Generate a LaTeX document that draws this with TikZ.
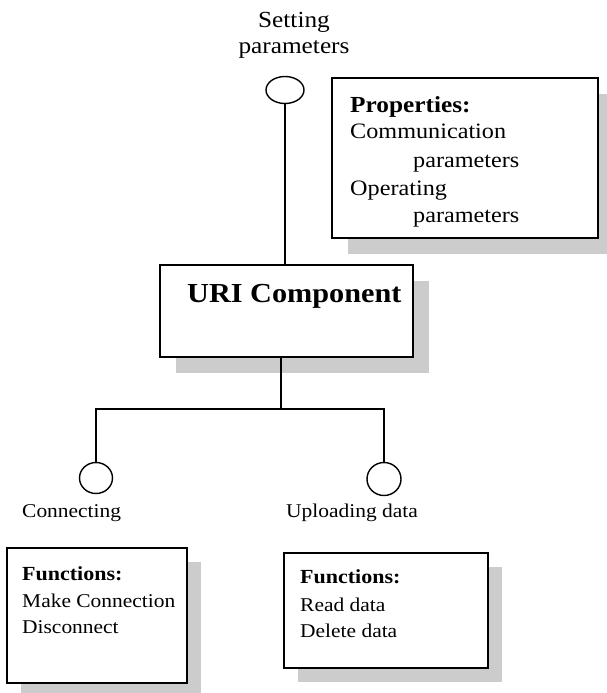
\documentclass[tikz,border=0pt]{standalone}
\usepackage{fontspec}
\setmainfont{Liberation Serif}[FakeStretch=1.1]
\usetikzlibrary{shapes.geometric,shadows}
\tikzset{
  lbl/.style={inner sep=0pt, anchor=base west},
  ftop/.style={font=\fontsize{23}{27}\selectfont},
  fprop/.style={font=\fontsize{22}{27}\selectfont},
  fpropb/.style={font=\bfseries\fontsize{23}{27}\selectfont},
  fbot/.style={font=\fontsize{19.5}{24}\selectfont},
  fbotb/.style={font=\bfseries\fontsize{20}{24}\selectfont},
  furi/.style={font=\bfseries\fontsize{27.5}{32}\selectfont},
  boxsh/.style={draw, line width=1.5pt, fill=white, inner sep=0pt,
    drop shadow={fill=gray!40, opacity=1, shadow xshift=#1, shadow yshift=-#1}},
  port/.style={draw, ellipse, line width=1.4pt, inner sep=0pt},
  conn/.style={line width=1.4pt}
}
\begin{document}
\begin{tikzpicture}[x=1pt,y=-1pt]
\useasboundingbox (0,0) rectangle (607,693);
% boxes
\node[boxsh=16pt, minimum width=266pt, minimum height=160pt] (prop) at (465,158) {};
\node[boxsh=16pt, minimum width=253pt, minimum height=92pt] (uri) at (286.5,311) {};
\node[boxsh=14pt, minimum width=180pt, minimum height=135pt] (fl) at (97,615.5) {};
\node[boxsh=14pt, minimum width=204pt, minimum height=115pt] (fr) at (386,610.5) {};
% ports
\node[port, minimum width=38pt, minimum height=27pt] (tc) at (285,90) {};
\node[port, minimum width=33pt, minimum height=31pt] (lc) at (96,478) {};
\node[port, minimum width=34pt, minimum height=33pt] (rc) at (384,479) {};
% connectors
\coordinate (j) at (281,409);
\draw[conn] (tc.south) -- (tc.south |- uri.north);
\draw[conn] (j |- uri.south) -- (j);
\draw[conn] (lc.north) |- (j) -| (rc.north);
% texts
\node[ftop, inner sep=0pt, anchor=base] (t1) at (294,28) {Setting};
\node[ftop, inner sep=0pt, anchor=base] (t2) at (294,54) {parameters};
\node[fpropb, lbl] (p1) at (350,112) {Properties:};
\node[fprop, lbl] (p2) at (350,138) {Communication};
\node[fprop, lbl] (p3) at (413,167) {parameters};
\node[fprop, lbl] (p4) at (350,195) {Operating};
\node[fprop, lbl] (p5) at (413,222) {parameters};
\node[furi, lbl] (u1) at (187,302) {URI Component};
\node[fbot, lbl] (c1) at (22,517) {Connecting};
\node[fbot, lbl] (c2) at (286,517) {Uploading data};
\node[fbotb, lbl] (l1) at (22,580) {Functions:};
\node[fbot, lbl] (l2) at (22,607) {Make Connection};
\node[fbot, lbl] (l3) at (22,633) {Disconnect};
\node[fbotb, lbl] (r1) at (300,583) {Functions:};
\node[fbot, lbl] (r2) at (300,611) {Read data};
\node[fbot, lbl] (r3) at (300,637) {Delete data};
\end{tikzpicture}
\end{document}
